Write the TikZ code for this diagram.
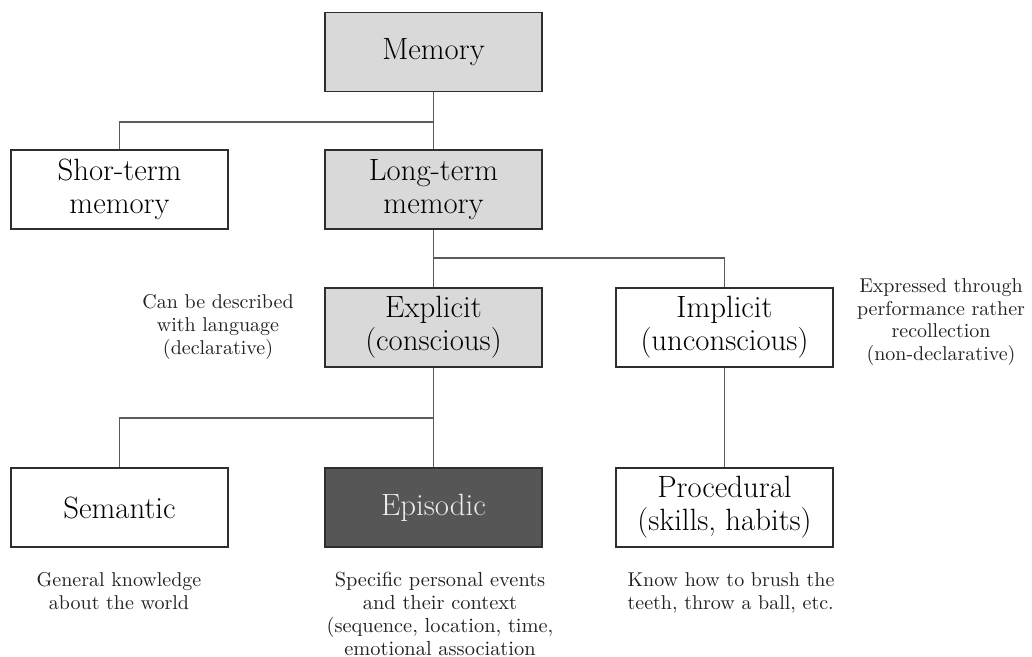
\documentclass[tikz,border=0pt]{standalone}
\begin{document}
\begin{tikzpicture}[x=0.5pt,y=-0.5pt,
  box/.style={draw=boxline,line width=0.9pt,minimum width=108.5pt,minimum height=39.5pt,
    inner sep=0pt,align=center,font=\fontsize{15.4}{16.6}\selectfont},
  graybox/.style={box,fill=boxgray},
  darkbox/.style={box,fill=boxdark,text=boxtext},
  whitebox/.style={box,fill=white},
  note/.style={align=center,inner sep=0pt,font=\fontsize{10}{11.4}\selectfont,text=notetext},
  conn/.style={draw=linegray,line width=0.6pt}]
\definecolor{boxline}{HTML}{2E2E2E}
\definecolor{boxgray}{HTML}{D9D9D9}
\definecolor{boxdark}{HTML}{565656}
\definecolor{boxtext}{HTML}{EDEDED}
\definecolor{linegray}{HTML}{5A5A5A}
\definecolor{notetext}{HTML}{222222}
\useasboundingbox[fill=white] (0,0) rectangle (1032,657);

\node[graybox] (mem) at (433.5,52) {Memory};
\node[whitebox] (stm) at (119.5,189.5) {Shor-term\\memory};
\node[graybox] (ltm) at (433.5,189.5) {Long-term\\memory};
\node[graybox] (exp) at (433.5,327.5) {Explicit\\(conscious)};
\node[whitebox] (imp) at (724.5,327.5) {Implicit\\(unconscious)};
\node[whitebox] (sem) at (119.5,507.5) {Semantic};
\node[darkbox] (epi) at (433.5,507.5) {Episodic};
\node[whitebox] (pro) at (724.5,507.5) {Procedural\\(skills, habits)};

\node[note] (ndecl) at (218,327) {Can be described\\with language\\(declarative)};
\node[note] (nndecl) at (941,322) {Expressed through\\performance rather\\recollection\\(non-declarative)};
\node[note,anchor=north] (nsem) at (119,572) {General knowledge\\about the world};
\node[note,anchor=north,font=\fontsize{10.2}{11.4}\selectfont] (nepi) at (440,572) {Specific personal events\\and their context\\(sequence, location, time,\\emotional association};
\node[note,anchor=north,align=left] (npro) at (731,572) {Know how to brush the\\teeth, throw a ball, etc.};

\coordinate (b1) at (433.5,122);
\coordinate (b2) at (433.5,258);
\coordinate (b3) at (433.5,418);
\draw[conn] (mem.south) -- (ltm.north);
\draw[conn] (b1) -| (stm.north);
\draw[conn] (ltm.south) -- (exp.north);
\draw[conn] (b2) -| (imp.north);
\draw[conn] (exp.south) -- (epi.north);
\draw[conn] (b3) -| (sem.north);
\draw[conn] (imp.south) -- (pro.north);
\end{tikzpicture}
\end{document}
